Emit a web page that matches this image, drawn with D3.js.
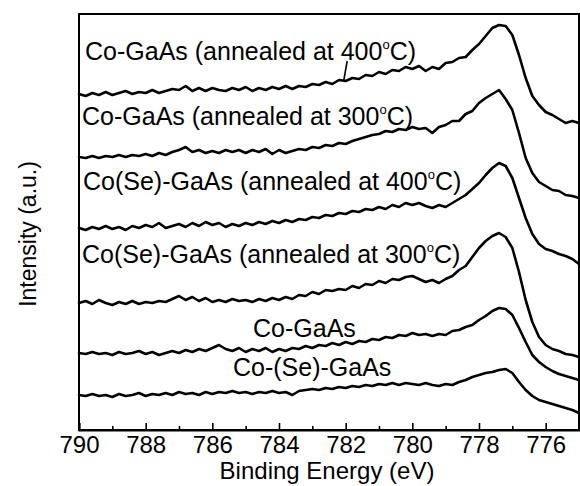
<!DOCTYPE html>
<html>
<head>
<meta charset="utf-8">
<script src="https://cdn.jsdelivr.net/npm/d3@7"></script>
<style>
  html, body { margin: 0; padding: 0; background: #fff; }
  svg { display: block; }
  text { font-family: "Liberation Sans", Arial, sans-serif; fill: #000; }
</style>
</head>
<body>
<svg id="chart" width="580" height="486"></svg>
<script>
// ---------- data ----------
const energies = [790.0,789.8,789.6,789.4,789.2,789.0,788.8,788.6,788.4,788.2,788.0,787.8,787.6,787.4,787.2,787.0,786.8,786.6,786.4,786.2,786.0,785.8,785.6,785.4,785.2,785.0,784.8,784.6,784.4,784.2,784.0,783.8,783.6,783.4,783.2,783.0,782.8,782.6,782.4,782.2,782.0,781.8,781.6,781.4,781.2,781.0,780.8,780.6,780.4,780.2,780.0,779.8,779.6,779.4,779.2,779.0,778.8,778.6,778.4,778.2,778.0,777.8,777.6,777.4,777.2,777.0,776.8,776.6,776.4,776.2,776.0,775.8,775.6,775.4,775.2,775.0];

const seriesNames = [
  "Co-GaAs (annealed at 400|C)",
  "Co-GaAs (annealed at 300|C)",
  "Co(Se)-GaAs (annealed at 400|C)",
  "Co(Se)-GaAs (annealed at 300|C)",
  "Co-GaAs",
  "Co-(Se)-GaAs"
];

// stacked (offset) intensities, a.u.
const coGaAs400 = [336,334,337,335,338,335,337,339,336,338,337,340,337,339,341,340,344,339,342,339,342,340,339,342,340,343,339,342,340,343,341,344,341,344,343,346,345,348,346,350,349,352,351,355,354,358,356,360,359,363,361,364,359,363,361,367,368,372,373,380,386,394,402,405,404,395,375,352,334,325,318,315,311,307,309,307];
const coGaAs300 = [273,272,274,272,274,273,275,273,275,274,276,274,277,275,278,280,283,278,280,277,279,277,280,278,280,277,280,278,281,276,280,277,279,281,280,283,282,285,284,287,286,289,291,293,295,296,299,298,301,300,303,301,302,297,303,305,309,309,316,319,327,332,336,340,331,320,297,272,257,248,244,240,239,235,234,232];
const coSeGaAs400 = [202,200,203,201,204,201,203,200,204,202,205,203,207,202,204,206,203,207,204,208,205,207,203,206,204,207,205,208,206,209,207,210,208,211,210,213,212,215,214,217,216,219,218,221,220,223,221,225,223,227,225,227,224,222,225,223,227,231,235,241,247,255,262,267,264,252,232,212,196,186,181,179,176,174,171,166];
const coSeGaAs300 = [127,129,126,130,127,125,128,126,129,126,128,127,129,128,131,134,130,133,129,132,128,130,128,131,129,130,128,131,129,132,130,133,131,135,134,138,136,140,139,141,140,144,142,146,145,149,147,151,150,153,154,151,148,150,147,151,154,160,164,173,182,189,194,197,193,182,158,130,108,93,85,81,79,76,75,73];
const coGaAs = [77,76,78,76,77,75,78,76,77,79,76,78,75,77,79,77,80,78,81,79,82,85,81,79,82,78,81,79,82,78,81,79,82,81,84,82,85,84,87,85,88,86,89,88,91,90,93,92,95,94,97,95,96,94,96,95,99,100,103,105,110,114,119,122,121,115,102,88,75,68,63,59,56,54,52,50];
const coSe_GaAs = [35,34,36,34,35,33,36,34,35,37,34,36,35,37,35,38,36,37,35,38,36,38,37,39,37,38,36,38,37,39,37,38,35,39,40,41,40,42,41,43,42,44,43,45,44,46,45,47,45,47,46,45,47,45,44,46,45,48,50,53,55,57,58,60,61,57,48,40,34,30,28,26,24,22,20,17];

const majorTicks = [790,788,786,784,782,780,778,776];
const minorTicks = [789,787,785,783,781,779,777,775];
const xTitle = "Binding Energy (eV)";
const yTitle = "Intensity (a.u.)";

// ---------- layout ----------
const allSeries = [coGaAs400, coGaAs300, coSeGaAs400, coSeGaAs300, coGaAs, coSe_GaAs];
// label anchors (energy of left edge, intensity of baseline)
const labelAnchors = [
  {e: 789.82, v: 370},
  {e: 789.91, v: 305},
  {e: 789.88, v: 240},
  {e: 789.91, v: 167},
  {e: 784.78, v: 93},
  {e: 785.38, v: 54}
];

const M = {left: 79, right: 579, top: 14, bottom: 430};
const svg = d3.select("#chart");

const x = d3.scaleLinear().domain([790, 775]).range([M.left, M.right]);
const y = d3.scaleLinear().domain([0, 416]).range([M.bottom, M.top]);

// frame
svg.append("rect")
  .attr("x", M.left).attr("y", M.top)
  .attr("width", M.right - M.left).attr("height", M.bottom - M.top)
  .attr("fill", "none").attr("stroke", "#000").attr("stroke-width", 2);

// curves
const line = d3.line()
  .x((d, i) => x(energies[i]))
  .y(d => y(d));

svg.append("g").selectAll("path")
  .data(allSeries)
  .join("path")
  .attr("d", d => line(d))
  .attr("fill", "none")
  .attr("stroke", "#000")
  .attr("stroke-width", 2.6)
  .attr("stroke-linejoin", "round")
  .attr("stroke-linecap", "round");

// bottom axis: inward ticks
const axisMajor = d3.axisBottom(x).tickValues(majorTicks).tickSize(-7).tickPadding(6).tickFormat(d3.format("d"));
const gx = svg.append("g").attr("transform", `translate(0,${M.bottom})`).call(axisMajor);
gx.select(".domain").attr("stroke", "#000").attr("stroke-width", 2);
gx.selectAll(".tick line").attr("stroke", "#000").attr("stroke-width", 1.6);
gx.selectAll(".tick text").attr("font-size", 24).style("font-family", '"Liberation Sans", Arial, sans-serif').attr("fill", "#000");

const axisMinor = d3.axisBottom(x).tickValues(minorTicks).tickSize(-4).tickFormat("");
const gm = svg.append("g").attr("transform", `translate(0,${M.bottom})`).call(axisMinor);
gm.select(".domain").remove();
gm.selectAll(".tick line").attr("stroke", "#000").attr("stroke-width", 1.6);

// axis titles
svg.append("text")
  .attr("x", (M.left + M.right) / 2 - 2).attr("y", 479)
  .attr("text-anchor", "middle").attr("font-size", 24)
  .text(xTitle);

svg.append("text")
  .attr("transform", `translate(36,${234}) rotate(-90)`)
  .attr("text-anchor", "middle").attr("font-size", 23)
  .text(yTitle);

// curve labels (with superscript degree "o")
seriesNames.forEach((name, i) => {
  const a = labelAnchors[i];
  const t = svg.append("text")
    .attr("x", x(a.e)).attr("y", y(a.v))
    .attr("font-size", 25);
  const parts = name.split("|");
  if (parts.length === 1) {
    t.text(name);
  } else {
    t.append("tspan").text(parts[0]);
    t.append("tspan").attr("font-size", 13).attr("dy", -11).text("o");
    t.append("tspan").attr("dy", 11).text(parts[1]);
  }
});

// leader line from label 1 to its curve
const leadIdx = energies.indexOf(782.0);
svg.append("line")
  .attr("x1", x(energies[leadIdx]) - 2).attr("y1", y(coGaAs400[leadIdx]))
  .attr("x2", x(energies[leadIdx]) + 1.5).attr("y2", y(coGaAs400[leadIdx]) - 20)
  .attr("stroke", "#000").attr("stroke-width", 1.6);
</script>
</body>
</html>
